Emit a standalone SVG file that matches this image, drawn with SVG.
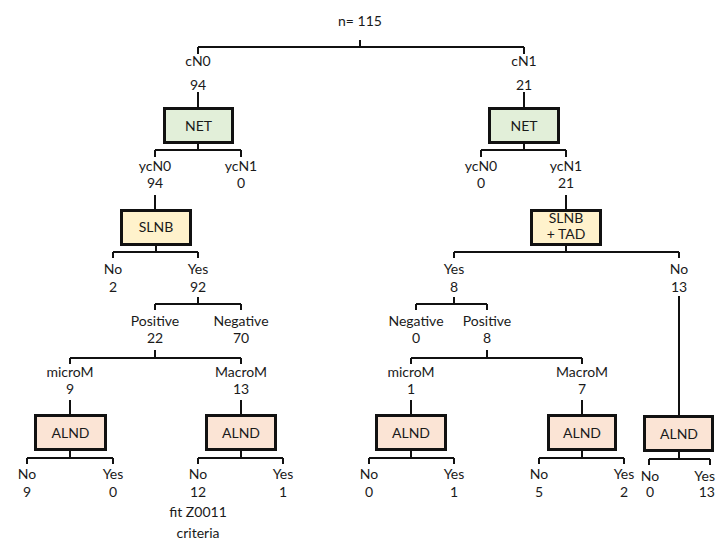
<svg xmlns="http://www.w3.org/2000/svg" width="717" height="540" viewBox="0 0 717 540">
<style>
text{font-family:Lato,"Open Sans","Liberation Sans",sans-serif;font-size:14px;fill:#1a1a1a;text-anchor:middle}
.c{fill:none;stroke:#111;stroke-width:2}
.b{stroke:#111;stroke-width:3}
.net{fill:#e2efd9}
.sl{fill:#fff2cc}
.al{fill:#fbe4d5}
</style>
<rect width="717" height="540" fill="#fff"/>
<g id="connectors" class="c">
<path d="M360,40V47M198,47H524M198,47V54M524,47V54"/>
<path d="M198,92V107M524,92V107"/>
<path d="M198,144V150M155,150H241M155,150V157M241,150V157"/>
<path d="M524,144V150M481,150H566M481,150V157M566,150V157"/>
<path d="M155,195V209M566,195V209"/>
<path d="M156,246V252M113,252H198M113,252V258M198,252V258"/>
<path d="M198,297V304M155,304H241M155,304V310M241,304V310"/>
<path d="M155,350V358M70,358H241M70,358V364M241,358V364"/>
<path d="M70,400V414M241,400V414"/>
<path d="M70,451V458M27,458H113M27,458V464M113,458V464"/>
<path d="M241,451V458M198,458H283M198,458V464M283,458V464"/>
<path d="M566,246V252M454,252H679M454,252V258M679,252V258"/>
<path d="M454,297V304M416,304H487M416,304V310M487,304V310"/>
<path d="M487,350V358M411,358H582M411,358V364M582,358V364"/>
<path d="M411,400V414M582,400V414"/>
<path d="M411,451V458M369,458H454M369,458V464M454,458V464"/>
<path d="M582,451V458M539,458H624M539,458V464M624,458V464"/>
<path d="M679,296V415"/>
<path d="M679,452V459M649,459H710M649,459V465M710,459V465"/>
</g>
<g id="labels">
<text x="360" y="26">n= 115</text>
<text x="198" y="66">cN0</text><text x="198" y="90">94</text>
<text x="524" y="66">cN1</text><text x="524" y="90">21</text>
<text x="155" y="171">ycN0</text><text x="155" y="188">94</text>
<text x="241" y="171">ycN1</text><text x="241" y="188">0</text>
<text x="481" y="171">ycN0</text><text x="481" y="188">0</text>
<text x="566" y="171">ycN1</text><text x="566" y="188">21</text>
<text x="113" y="274">No</text><text x="113" y="292">2</text>
<text x="198" y="274">Yes</text><text x="198" y="292">92</text>
<text x="155" y="326">Positive</text><text x="155" y="343">22</text>
<text x="241" y="326">Negative</text><text x="241" y="343">70</text>
<text x="70" y="377">microM</text><text x="70" y="394">9</text>
<text x="241" y="377">MacroM</text><text x="241" y="394">13</text>
<text x="27" y="479">No</text><text x="27" y="497">9</text>
<text x="113" y="479">Yes</text><text x="113" y="497">0</text>
<text x="198" y="479">No</text><text x="198" y="497">12</text>
<text x="283" y="479">Yes</text><text x="283" y="497">1</text>
<text x="198" y="517">fit Z0011</text>
<text x="198" y="538">criteria</text>
<text x="454" y="274">Yes</text><text x="454" y="292">8</text>
<text x="679" y="274">No</text><text x="679" y="292">13</text>
<text x="416" y="326">Negative</text><text x="416" y="343">0</text>
<text x="487" y="326">Positive</text><text x="487" y="343">8</text>
<text x="411" y="377">microM</text><text x="411" y="394">1</text>
<text x="582" y="377">MacroM</text><text x="582" y="394">7</text>
<text x="369" y="479">No</text><text x="369" y="497">0</text>
<text x="454" y="479">Yes</text><text x="454" y="497">1</text>
<text x="539" y="479">No</text><text x="539" y="497">5</text>
<text x="624" y="479">Yes</text><text x="624" y="497">2</text>
<text x="650" y="481">No</text><text x="650" y="497">0</text>
<text x="715" y="481" style="text-anchor:end">Yes</text><text x="715" y="497" style="text-anchor:end">13</text>
</g>
<g id="net-left"><rect class="b net" x="164.5" y="108.5" width="68" height="34"/><text x="198.5" y="130.5">NET</text></g>
<g id="net-right"><rect class="b net" x="489.5" y="108.5" width="69" height="34"/><text x="524" y="130.5">NET</text></g>
<g id="slnb"><rect class="b sl" x="121.5" y="210.5" width="69" height="34"/><text x="156" y="232">SLNB</text></g>
<g id="slnb-tad"><rect class="b sl" x="531.5" y="210.5" width="69" height="34"/><text x="566" y="223">SLNB</text><text x="566" y="239">+ TAD</text></g>
<g id="alnd-1"><rect class="b al" x="35.5" y="415.5" width="70" height="34"/><text x="70.5" y="437.5">ALND</text></g>
<g id="alnd-2"><rect class="b al" x="206.5" y="415.5" width="69" height="34"/><text x="241" y="437.5">ALND</text></g>
<g id="alnd-3"><rect class="b al" x="376.5" y="415.5" width="69" height="34"/><text x="411" y="437.5">ALND</text></g>
<g id="alnd-4"><rect class="b al" x="548.5" y="415.5" width="67" height="34"/><text x="582" y="437.5">ALND</text></g>
<g id="alnd-5"><rect class="b al" x="644.5" y="416.5" width="68" height="34"/><text x="679" y="438.5">ALND</text></g>
</svg>
